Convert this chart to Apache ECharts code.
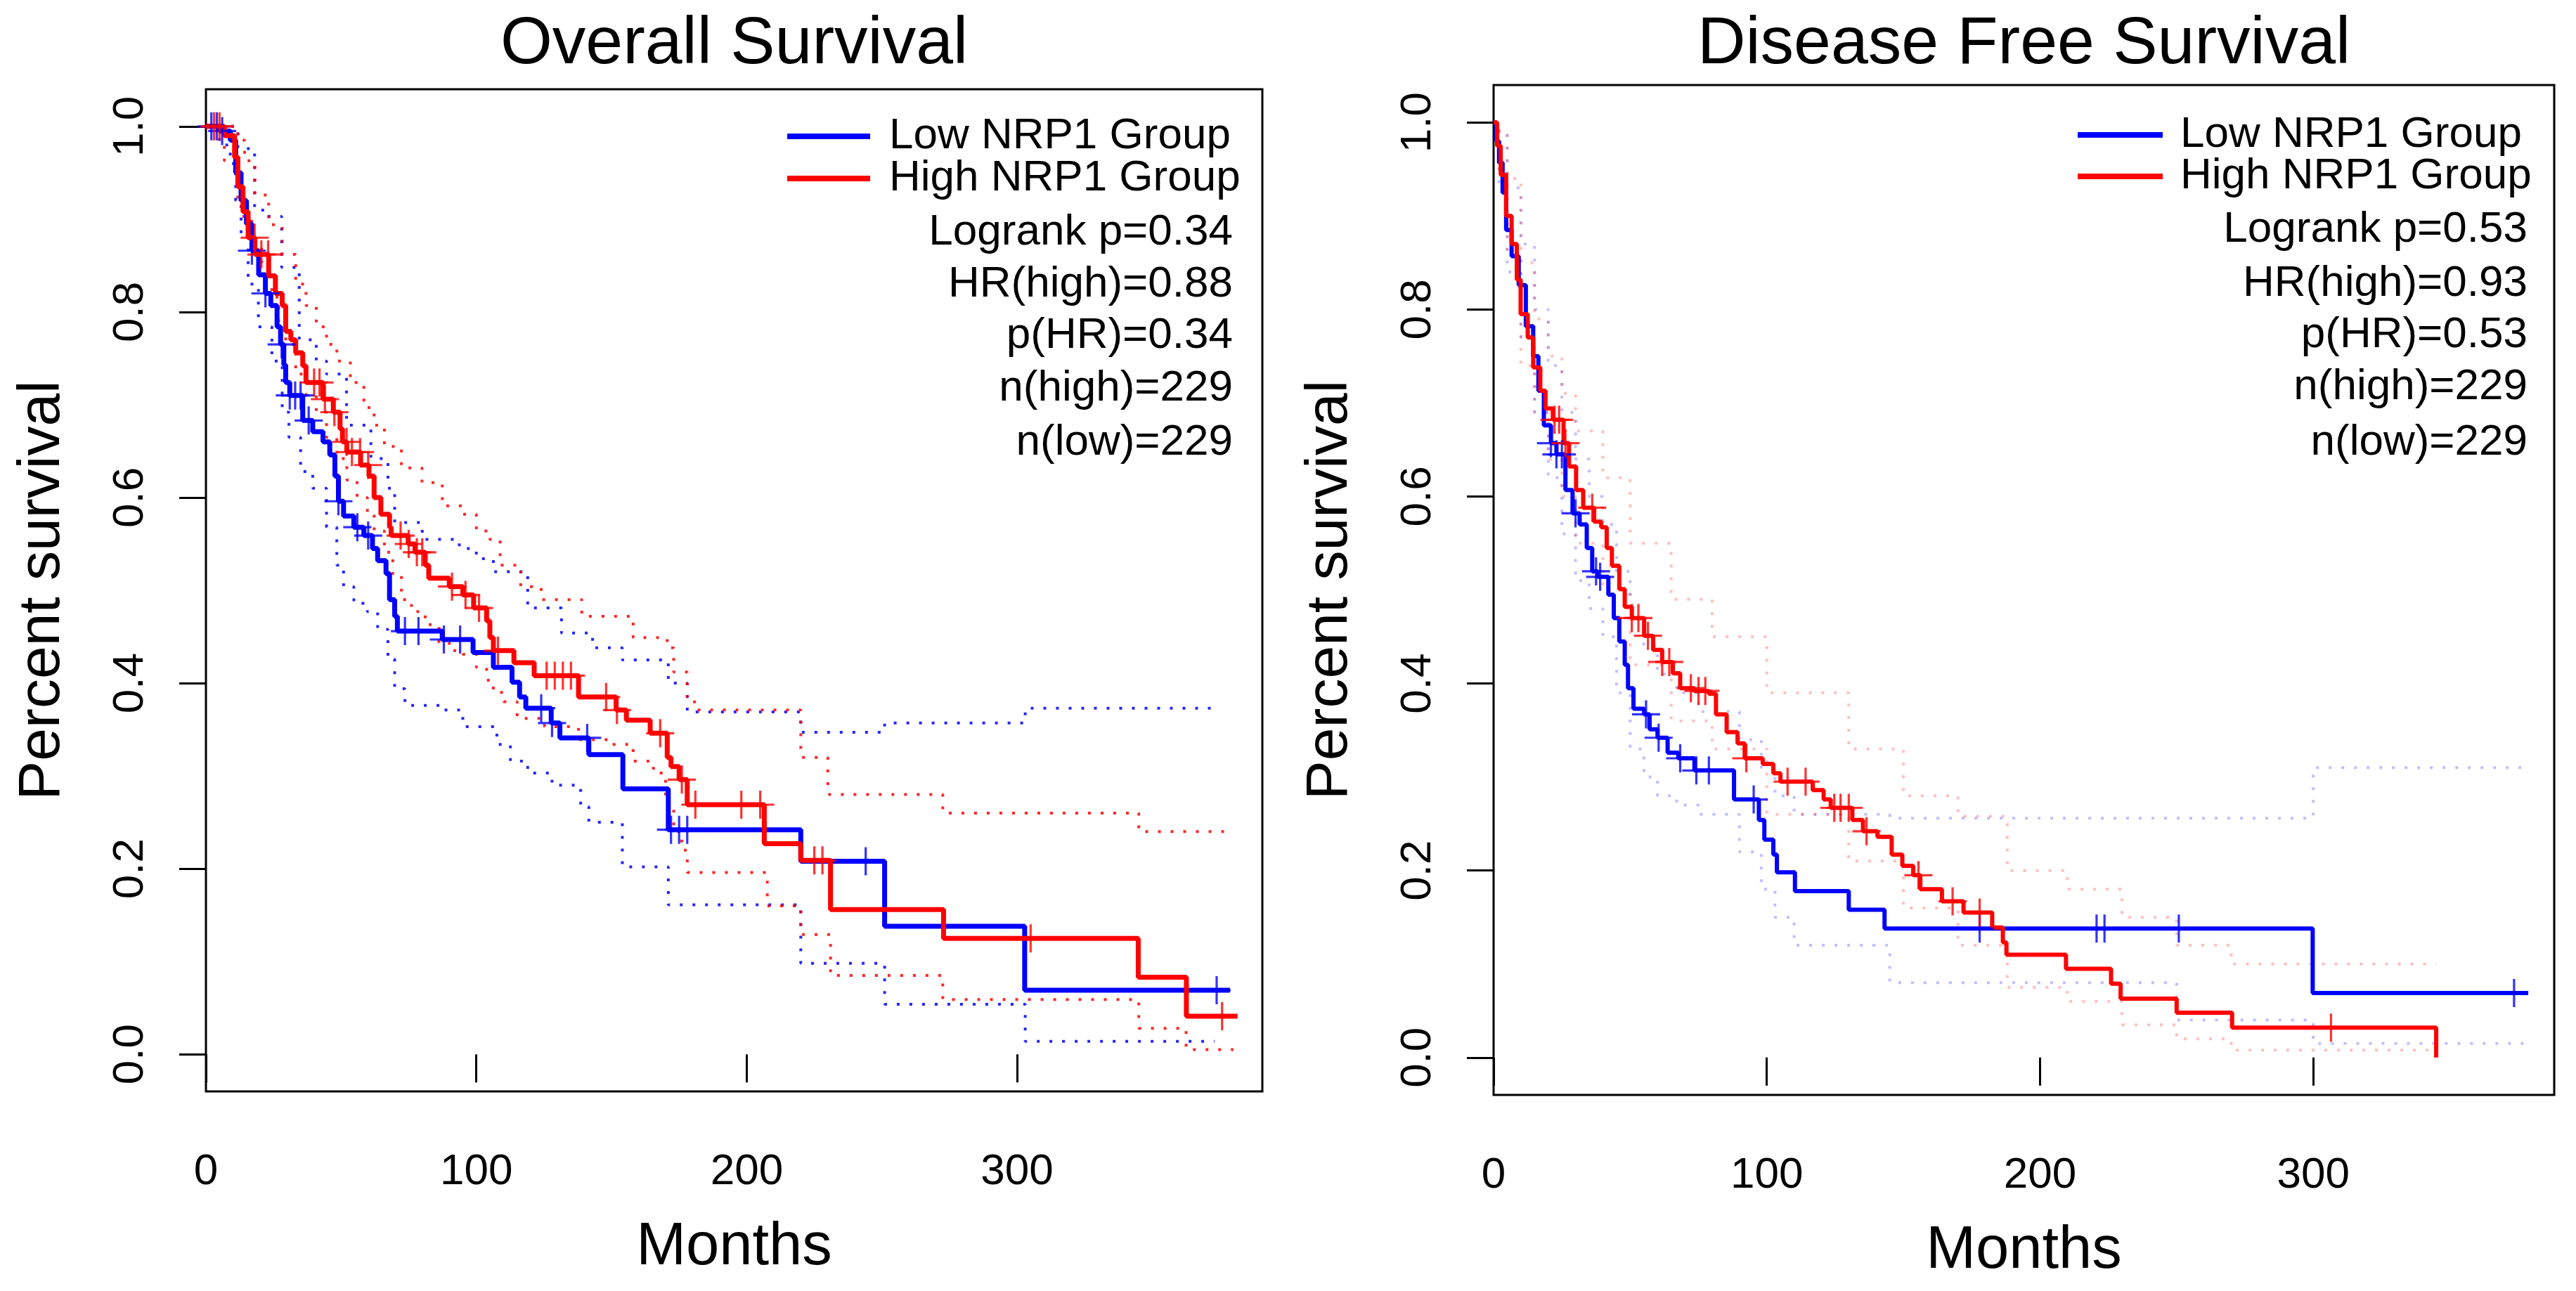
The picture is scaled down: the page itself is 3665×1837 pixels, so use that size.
<!DOCTYPE html>
<html>
<head>
<meta charset="utf-8">
<title>NRP1 survival</title>
<script src="https://cdn.jsdelivr.net/npm/echarts@6/dist/echarts.min.js"></script>
<style>
  html, body { margin: 0; padding: 0; background: #fff; }
  #chart { width: 3665px; height: 1837px; }
</style>
</head>
<body>
<div id="chart"></div>
<script>
// axis ticks / labels
var xTicks = [0, 100, 200, 300];
var yTicks = [0, 0.2, 0.4, 0.6, 0.8, 1.0];
var yTickLabels = ['0.0', '0.2', '0.4', '0.6', '0.8', '1.0'];
var groupNames = ['Low NRP1 Group', 'High NRP1 Group'];
var osStats = ['Logrank p=0.34', 'HR(high)=0.88', 'p(HR)=0.34', 'n(high)=229', 'n(low)=229'];
var dfsStats = ['Logrank p=0.53', 'HR(high)=0.93', 'p(HR)=0.53', 'n(high)=229', 'n(low)=229'];

// Overall survival - low group (step start times / survival)
var osLowT = [0, 5, 9, 11, 13, 15, 17, 19.5, 22, 24, 26.3, 27.6, 28.8, 29.5, 31, 35.8, 39.5, 43.3, 45.8, 47.7,
  49, 50.9, 54.7, 58.4, 61.6, 63.5, 66.6, 67.9, 69.8, 70.8, 87.4, 98.8, 106.3, 113.2, 116, 118.3, 127.7, 130.9, 141.6, 154.2,
  171, 220, 251, 302.8, 378.7];
var osLowS = [1, 0.995, 0.985, 0.95, 0.92, 0.895, 0.866, 0.84, 0.82, 0.807, 0.784, 0.765, 0.743, 0.724, 0.71, 0.683, 0.671, 0.66, 0.646, 0.623,
  0.596, 0.58, 0.568, 0.559, 0.545, 0.532, 0.518, 0.49, 0.472, 0.456, 0.447, 0.433, 0.417, 0.401, 0.385, 0.373, 0.357, 0.341, 0.323, 0.286,
  0.242, 0.208, 0.138, 0.069, 0.069];
var osLowCens = [2, 4, 6, 17, 22, 28, 31, 33, 35, 38, 49, 56, 60, 73.6, 78.6, 88, 94, 124, 128, 141, 172, 175, 178, 244, 373.8];
var osLowUpT = [0, 11.8, 18, 21, 28, 34.5, 40.8, 44.6, 52, 61, 67.3, 69.8, 80, 93.7, 100, 106.3, 119, 131.5, 143, 154,
  171, 178, 220, 251, 303, 372];
var osLowUpS = [1, 0.976, 0.912, 0.903, 0.848, 0.77, 0.747, 0.733, 0.678, 0.642, 0.61, 0.573, 0.555, 0.545, 0.534, 0.52, 0.481, 0.454, 0.438, 0.425,
  0.40, 0.369, 0.347, 0.357, 0.373, 0.373];
var osLowLoT = [0, 5, 9, 11, 13, 15.6, 19.4, 24.4, 28.2, 30.7, 35, 39.5, 44.6, 48.4, 50.9, 54.7, 59.7, 63.5, 67.3, 69.8,
  73.6, 87.4, 95, 107.6, 112.6, 119, 128, 138.6, 141.6, 154, 171, 220, 251, 303, 373];
var osLowLoS = [1, 0.98, 0.96, 0.92, 0.88, 0.83, 0.784, 0.747, 0.692, 0.665, 0.628, 0.61, 0.568, 0.527, 0.504, 0.486, 0.477, 0.458, 0.426, 0.394,
  0.376, 0.371, 0.353, 0.334, 0.316, 0.303, 0.29, 0.267, 0.25, 0.202, 0.161, 0.098, 0.054, 0.014, 0.014];

// Overall survival - high group
var osHighT = [0, 6.8, 10.6, 11.8, 13.7, 15.6, 18.1, 23.2, 25.7, 28.2, 29.5, 31.4, 33.2, 35.8, 37, 43.3, 47.1, 49.6, 50.5, 52.1,
  57.2, 60.3, 62.2, 64.7, 67.9, 68.5, 74.8, 77.3, 81.1, 82.4, 90, 95, 99, 103.8, 105, 106.3, 113.9, 121.4, 137.8, 151.7,
  155.5, 164.3, 170.6, 172, 175, 178, 206.5, 220, 231, 272.8, 344.8, 362.6, 381.5];
var osHighS = [1, 0.99, 0.967, 0.935, 0.908, 0.88, 0.862, 0.839, 0.82, 0.807, 0.779, 0.77, 0.756, 0.742, 0.724, 0.706, 0.692, 0.674, 0.66, 0.649,
  0.635, 0.623, 0.6, 0.582, 0.568, 0.559, 0.55, 0.541, 0.527, 0.513, 0.504, 0.495, 0.481, 0.467, 0.449, 0.435, 0.422, 0.408, 0.385, 0.371,
  0.36, 0.346, 0.32, 0.31, 0.296, 0.269, 0.227, 0.209, 0.156, 0.125, 0.083, 0.041, 0.041];
var osHighCens = [3, 5, 18, 20.5, 23, 40, 42, 44, 47.5, 52, 54, 57, 60, 72, 75, 78, 80, 91, 96, 101, 108, 126, 129, 132, 135,
  148, 152, 168, 176, 181, 198, 205, 225, 228, 305, 375.8];
var osHighUpT = [0, 11.8, 14.3, 18.1, 23.2, 28.2, 33.2, 37, 40.8, 44.6, 48.4, 53.4, 58.4, 62.2, 66, 72.3, 79.9, 87.4, 95, 100,
  105, 108.8, 116.4, 124, 139, 158, 170.6, 173, 178, 180.7, 220, 230, 272.5, 345, 380];
var osHighUpS = [1, 0.985, 0.963, 0.926, 0.894, 0.862, 0.83, 0.807, 0.784, 0.765, 0.747, 0.724, 0.697, 0.678, 0.655, 0.632, 0.616, 0.591, 0.582, 0.564,
  0.555, 0.527, 0.504, 0.49, 0.472, 0.449, 0.438, 0.412, 0.385, 0.371, 0.32, 0.28, 0.26, 0.24, 0.24];
var osHighLoT = [0, 6.8, 11.8, 13.1, 16.9, 20.6, 24.4, 26.9, 29.5, 33.2, 37, 40.8, 44.6, 48.4, 52.1, 55.9, 59.7, 62.2, 66, 69.1,
  72.3, 76, 81.1, 86.2, 90, 95, 100, 103.8, 106.3, 110.1, 115.1, 125.2, 137.8, 150.4, 158, 165.5, 170, 173, 176, 178,
  207.6, 220, 231, 272.5, 345, 362.5, 380];
var osHighLoS = [1, 0.963, 0.921, 0.903, 0.871, 0.839, 0.816, 0.784, 0.765, 0.733, 0.71, 0.692, 0.665, 0.642, 0.619, 0.6, 0.582, 0.564, 0.541, 0.518,
  0.49, 0.477, 0.463, 0.444, 0.435, 0.431, 0.417, 0.403, 0.39, 0.38, 0.362, 0.353, 0.339, 0.334, 0.316, 0.303, 0.27, 0.24, 0.22, 0.196,
  0.16, 0.129, 0.085, 0.059, 0.028, 0.005, 0.005];

// Disease free survival - low group
var dfsLowT = [0, 1, 2, 3.3, 4.6, 6.6, 9.2, 11.8, 14.5, 16.4, 18.4, 21, 23, 26.3, 28.9, 31.5, 34.1, 36.1, 38.1, 42,
  44, 46, 48, 49.2, 51.2, 55.1, 57.1, 60, 63.7, 67.6, 73.5, 88, 97.1, 99.1, 102.4, 103.7, 110.3, 130, 143.1, 299.8, 378.7];
var dfsLowS = [1, 0.98, 0.957, 0.925, 0.885, 0.857, 0.826, 0.782, 0.75, 0.713, 0.676, 0.657, 0.645, 0.607, 0.582, 0.57, 0.545, 0.52, 0.514, 0.495,
  0.47, 0.445, 0.42, 0.395, 0.373, 0.367, 0.351, 0.342, 0.326, 0.32, 0.307, 0.276, 0.254, 0.233, 0.217, 0.198, 0.178, 0.158, 0.138, 0.069, 0.069];
var dfsLowCens = [21, 23, 25, 30, 37.5, 39, 55.8, 60.4, 68.3, 74.2, 78.8, 95.2, 177.9, 220.7, 223.6, 250.8, 373.5];
var dfsLowUpT = [0, 2, 5, 10, 15, 20, 25, 30, 35, 40, 45, 50, 55, 60, 67, 75, 90, 98, 103, 110, 145, 300, 378];
var dfsLowUpS = [1, 0.99, 0.93, 0.87, 0.8, 0.74, 0.69, 0.64, 0.6, 0.57, 0.52, 0.47, 0.44, 0.41, 0.39, 0.37, 0.34, 0.31, 0.28, 0.26, 0.256, 0.31, 0.31];
var dfsLowLoT = [0, 2, 5, 10, 15, 20, 25, 30, 35, 40, 45, 50, 55, 60, 67, 75, 90, 98, 103, 110, 145, 250, 300, 378];
var dfsLowLoS = [1, 0.93, 0.84, 0.77, 0.69, 0.62, 0.56, 0.51, 0.48, 0.45, 0.39, 0.33, 0.3, 0.28, 0.27, 0.26, 0.22, 0.18, 0.15, 0.12, 0.08, 0.04, 0.015, 0.015];

// Disease free survival - high group
var dfsHighT = [0, 1.3, 2.6, 4.6, 6.6, 8.5, 9.9, 12.5, 14.5, 17.1, 19, 21.7, 25.6, 27.6, 30.2, 32.8, 36.8, 39.4, 41.4, 43.3,
  46, 48, 50.6, 55.1, 58.4, 61.7, 65.6, 68.3, 73.5, 78.8, 81.4, 85.3, 89.3, 91.9, 98.5, 102.4, 105, 116.8, 120.8, 123.4,
  131.3, 135.2, 140.5, 145.7, 149.6, 153.6, 156.2, 164.1, 172, 182.5, 186.4, 187.7, 209.5, 226, 229.5, 250, 270.3, 345];
var dfsHighS = [1, 0.975, 0.944, 0.9, 0.87, 0.832, 0.795, 0.77, 0.738, 0.713, 0.694, 0.682, 0.657, 0.632, 0.607, 0.588, 0.573, 0.567, 0.545, 0.526,
  0.501, 0.482, 0.47, 0.451, 0.436, 0.423, 0.411, 0.395, 0.392, 0.389, 0.367, 0.348, 0.336, 0.32, 0.314, 0.304, 0.295, 0.286, 0.276, 0.267,
  0.254, 0.242, 0.236, 0.217, 0.205, 0.195, 0.18, 0.167, 0.155, 0.139, 0.123, 0.11, 0.095, 0.079, 0.063, 0.048, 0.032, 0];
var dfsHighCens = [22.3, 24, 26.3, 36.1, 50.6, 53, 56.5, 61.7, 64.3, 72.2, 75, 77.5, 92.5, 107.6, 114.2, 124.7, 127, 130, 136.5,
  155.5, 168, 177.9, 306.5];
var dfsHighUpT = [0, 2, 5, 10, 15, 20, 25, 30, 40, 50, 65, 80, 100, 130, 150, 170, 188, 210, 230, 250, 270, 345];
var dfsHighUpS = [1, 0.99, 0.94, 0.85, 0.79, 0.75, 0.71, 0.67, 0.62, 0.55, 0.49, 0.45, 0.39, 0.33, 0.28, 0.258, 0.2, 0.18, 0.15, 0.12, 0.1, 0.1];
var dfsHighLoT = [0, 2, 5, 10, 15, 20, 25, 30, 40, 50, 65, 80, 100, 130, 150, 170, 188, 210, 230, 250, 270, 345];
var dfsHighLoS = [1, 0.95, 0.86, 0.74, 0.69, 0.64, 0.6, 0.55, 0.5, 0.42, 0.36, 0.33, 0.26, 0.21, 0.16, 0.12, 0.075, 0.06, 0.035, 0.02, 0.008, 0.008];

var BLUE = '#0000ff';
var RED = '#ff0000';
var FONT = '"Liberation Sans", Arial, Helvetica, sans-serif';
var plusPath = 'path://M-0.08,-1L0.08,-1L0.08,-0.08L1,-0.08L1,0.08L0.08,0.08L0.08,1L-0.08,1L-0.08,0.08L-1,0.08L-1,-0.08L-0.08,-0.08Z';

// panel geometry (pixels)
var panels = [
  { title: 'Overall Survival', left: 293, top: 127, width: 1503, height: 1426, xMax: 390.7, lineW: 7,
    ciOpacity: 0.85, stats: osStats,
    legLine: [1120, 1238], legText: 1265, legY: [194, 254], statsX: 1754, statsY: [331, 405, 478, 553, 630] },
  { title: 'Disease Free Survival', left: 2125, top: 121, width: 1509, height: 1437, xMax: 388.2, lineW: 6,
    ciOpacity: 0.25, stats: dfsStats,
    legLine: [2956, 3077], legText: 3102, legY: [192, 251], statsX: 3596, statsY: [327, 404, 477, 551, 630] }
];

function stepData(t, s) {
  return t.map(function (x, i) { return [x, s[i]]; });
}

function survAt(t, s, x) {
  var v = s[0];
  for (var i = 0; i < t.length; i++) {
    if (t[i] <= x) v = s[i]; else break;
  }
  return v;
}

function curve(idx, t, s, color, width, dotted, opacity) {
  return {
    type: 'line', xAxisIndex: idx, yAxisIndex: idx,
    data: stepData(t, s), step: 'end', symbol: 'none', silent: true,
    lineStyle: { color: color, width: width, type: dotted ? [4, 14] : 'solid', opacity: opacity, cap: 'butt' },
    z: dotted ? 2 : 3
  };
}

function censors(idx, times, t, s, color) {
  return {
    type: 'scatter', xAxisIndex: idx, yAxisIndex: idx, silent: true,
    symbol: plusPath, symbolSize: 40,
    itemStyle: { color: color },
    data: times.map(function (c) { return [c, survAt(t, s, c)]; }),
    z: 4
  };
}

var grids = [], xAxes = [], yAxes = [], graphics = [];

panels.forEach(function (p, i) {
  grids.push({ left: p.left, top: p.top, width: p.width, height: p.height, show: true,
    borderColor: '#000', borderWidth: 3, backgroundColor: 'transparent', outerBoundsMode: 'none' });

  xAxes.push({
    gridIndex: i, type: 'value', min: 0, max: p.xMax,
    axisLine: { show: false }, splitLine: { show: false },
    axisTick: { show: true, length: 40, customValues: xTicks, lineStyle: { color: '#000', width: 3 } },
    axisLabel: { customValues: xTicks, color: '#000', fontSize: 62, fontFamily: FONT, margin: 84 },
    name: 'Months', nameLocation: 'middle', nameGap: 180,
    nameTextStyle: { color: '#000', fontSize: 85, fontFamily: FONT }
  });

  yAxes.push({
    gridIndex: i, type: 'value', min: -0.04, max: 1.04,
    axisLine: { show: false }, splitLine: { show: false },
    axisTick: { show: true, length: 38, customValues: yTicks, lineStyle: { color: '#000', width: 3 } },
    axisLabel: {
      customValues: yTicks, rotate: 90, color: '#000', fontSize: 62, fontFamily: FONT, margin: 76,
      formatter: function (v) {
        var best = 0;
        yTicks.forEach(function (tk, k) { if (Math.abs(tk - v) < Math.abs(yTicks[best] - v)) best = k; });
        return yTickLabels[best];
      }
    },
    name: 'Percent survival', nameLocation: 'middle', nameGap: 190, nameRotate: 90,
    nameTextStyle: { color: '#000', fontSize: 84, fontFamily: FONT }
  });

  // title
  graphics.push({ type: 'text', x: p.left + p.width / 2, y: 64, silent: true,
    style: { text: p.title, fill: '#000', font: '95px ' + FONT,
      textAlign: 'center', align: 'center', textVerticalAlign: 'middle', verticalAlign: 'middle' } });

  // legend
  [BLUE, RED].forEach(function (c, k) {
    graphics.push({ type: 'line', silent: true,
      shape: { x1: p.legLine[0], y1: p.legY[k], x2: p.legLine[1], y2: p.legY[k] },
      style: { stroke: c, lineWidth: 8 } });
    graphics.push({ type: 'text', x: p.legText, y: p.legY[k], silent: true,
      style: { text: groupNames[k], fill: '#000', font: '62px ' + FONT,
        textAlign: 'left', align: 'left', textVerticalAlign: 'middle', verticalAlign: 'middle' } });
  });

  p.stats.forEach(function (s, k) {
    graphics.push({ type: 'text', x: p.statsX, y: p.statsY[k], silent: true,
      style: { text: s, fill: '#000', font: '62px ' + FONT,
        textAlign: 'right', align: 'right', textVerticalAlign: 'middle', verticalAlign: 'middle' } });
  });
});

var series = [
  // overall survival
  curve(0, osLowUpT, osLowUpS, BLUE, 4, true, panels[0].ciOpacity),
  curve(0, osLowLoT, osLowLoS, BLUE, 4, true, panels[0].ciOpacity),
  curve(0, osHighUpT, osHighUpS, RED, 4, true, panels[0].ciOpacity),
  curve(0, osHighLoT, osHighLoS, RED, 4, true, panels[0].ciOpacity),
  curve(0, osLowT, osLowS, BLUE, panels[0].lineW, false, 1),
  curve(0, osHighT, osHighS, RED, panels[0].lineW, false, 1),
  censors(0, osLowCens, osLowT, osLowS, BLUE),
  censors(0, osHighCens, osHighT, osHighS, RED),
  // disease free survival
  curve(1, dfsLowUpT, dfsLowUpS, BLUE, 4, true, panels[1].ciOpacity),
  curve(1, dfsLowLoT, dfsLowLoS, BLUE, 4, true, panels[1].ciOpacity),
  curve(1, dfsHighUpT, dfsHighUpS, RED, 4, true, panels[1].ciOpacity),
  curve(1, dfsHighLoT, dfsHighLoS, RED, 4, true, panels[1].ciOpacity),
  curve(1, dfsLowT, dfsLowS, BLUE, panels[1].lineW, false, 1),
  curve(1, dfsHighT, dfsHighS, RED, panels[1].lineW, false, 1),
  censors(1, dfsLowCens, dfsLowT, dfsLowS, BLUE),
  censors(1, dfsHighCens, dfsHighT, dfsHighS, RED)
];

var chart = echarts.init(document.getElementById('chart'), null, { renderer: 'canvas' });
chart.setOption({
  animation: false,
  backgroundColor: '#fff',
  textStyle: { fontFamily: FONT },
  grid: grids,
  xAxis: xAxes,
  yAxis: yAxes,
  graphic: graphics,
  series: series
});
</script>
</body>
</html>
